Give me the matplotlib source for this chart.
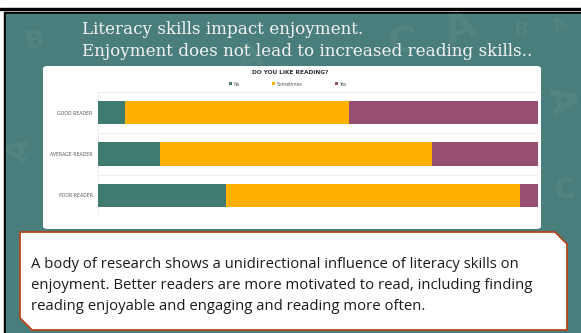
import matplotlib.pyplot as plt
import matplotlib.patches as mpatches
import numpy as np

W, H = 581, 333

readers = ['GOOD READER', 'AVERAGE READER', 'POOR READER']
no_pct = [6, 14, 29]
sometimes_pct = [51, 62, 67]
yes_pct = [43, 24, 4]
series_names = ['No', 'Sometimes', 'Yes']
series_colors = ['#3f7b6f', '#ffb000', '#974f6f']

slide_title = ['Literacy skills impact enjoyment.',
               'Enjoyment does not lead to increased reading skills..']
body_lines = ['A body of research shows a unidirectional influence of literacy skills on',
              'enjoyment. Better readers are more motivated to read, including finding',
              'reading enjoyable and engaging and reading more often.']

fig = plt.figure(figsize=(W / 100, H / 100), dpi=100, facecolor='white')


def fx(x):
    return x / W


def fy(y):
    # pixel measured from the top -> figure fraction
    return 1 - y / H


# slide frame
fig.add_artist(mpatches.Rectangle((fx(0), fy(10)), 1, 2 / H, color='black', transform=fig.transFigure, zorder=-5))
fig.add_artist(mpatches.Rectangle((fx(4), fy(H)), fx(W), (H - 12) / H, color='black', transform=fig.transFigure, zorder=-5))
teal = '#4a7e7c'
fig.add_artist(mpatches.Rectangle((fx(6), fy(H)), fx(W), (H - 14) / H, color=teal, transform=fig.transFigure, zorder=-4))

# faint letters in the background
deco = [(35, 40, 'B', 18, 10), (250, 58, 'A', 26, 15), (400, 40, 'C', 26, -15),
        (460, 28, 'A', 30, 20), (520, 30, 'B', 14, -10), (560, 25, 'A', 12, 30), (560, 100, 'A', 26, -80),
        (20, 150, 'A', 22, 80), (565, 190, 'C', 20, 10)]
for x, y, ch, size, rot in deco:
    fig.text(fx(x), fy(y), ch, fontsize=size, color='white', alpha=0.05, fontweight='bold',
             rotation=rot, ha='center', va='center', family='DejaVu Sans', zorder=-3)

# slide title
for i, line in enumerate(slide_title):
    fig.text(fx(82), fy(30 + i * 21.5), line, fontsize=12.1, color='#f2f2f2',
             family='DejaVu Serif', ha='left', va='center')

# white chart panel
panel = mpatches.FancyBboxPatch((fx(43), fy(229)), fx(498), (229 - 66) / H,
                                boxstyle='round,pad=0,rounding_size=0.008',
                                facecolor='white', edgecolor='none', transform=fig.transFigure, zorder=-2)
fig.add_artist(panel)

fig.text(fx(290), fy(73), 'DO YOU LIKE READING?', fontsize=4.2, fontweight='bold',
         color='#333333', ha='center', va='center')

ax = fig.add_axes([fx(98.3), fy(216), fx(537.7 - 98.3), (216 - 92) / H])
ax.set_zorder(2)
ax.set_facecolor('none')
y = np.arange(len(readers))
left = np.zeros(len(readers))
for vals, name, col in zip([no_pct, sometimes_pct, yes_pct], series_names, series_colors):
    ax.barh(y, vals, left=left, height=0.56, color=col, label=name)
    left += np.array(vals)
ax.set_xlim(0, 100)
ax.set_ylim(2.5, -0.5)
ax.set_yticks(y)
ax.set_yticklabels(readers, fontsize=3.3, color='#555555')
ax.set_xticks([])
ax.tick_params(axis='y', length=0, pad=4)
for b in [-0.5, 0.5, 1.5, 2.5]:
    ax.axhline(b, color='#eeeeee', lw=0.8, zorder=0)
ax.axvline(0, color='#eeeeee', lw=0.8, zorder=0)
for s in ax.spines.values():
    s.set_visible(False)

leg = fig.legend(*ax.get_legend_handles_labels(), loc='center', bbox_to_anchor=(fx(288), fy(84)),
                 ncol=3, frameon=False, fontsize=3.3, handlelength=0.6, handleheight=0.6,
                 columnspacing=7, handletextpad=0.4, labelcolor='#555555')

# text box with cut corners
x0, x1, y0, y1, c = 20, 567, 232, 330, 12
pts = [(x0, y0), (x1 - c, y0), (x1, y0 + c), (x1, y1), (x0 + c, y1), (x0, y1 - c)]
box = mpatches.Polygon([(fx(px), fy(py)) for px, py in pts], closed=True, facecolor='white',
                       edgecolor='#b4451d', lw=1.3, transform=fig.transFigure, zorder=-1)
fig.add_artist(box)
for i, line in enumerate(body_lines):
    fig.text(fx(31), fy(264 + i * 21.5), line, fontsize=10.7, color='#1a1a1a',
             family=['Open Sans', 'DejaVu Sans'], ha='left', va='center')

fig.savefig('out.png', dpi=100)
